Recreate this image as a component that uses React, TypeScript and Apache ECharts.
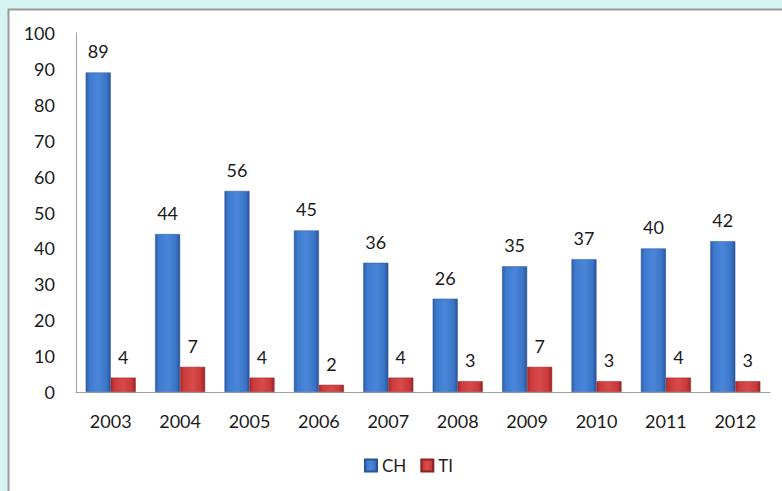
import React, { useEffect, useRef } from "react";
import * as echarts from "echarts";

const years = ["2003", "2004", "2005", "2006", "2007", "2008", "2009", "2010", "2011", "2012"];
const chValues = [89, 44, 56, 45, 36, 26, 35, 37, 40, 42];
const tiValues = [4, 7, 4, 2, 4, 3, 7, 3, 4, 3];

const blueGrad = new echarts.graphic.LinearGradient(0, 0, 1, 0, [
  { offset: 0, color: "#2d5fa8" },
  { offset: 0.15, color: "#3d7ad0" },
  { offset: 0.5, color: "#4a86d8" },
  { offset: 0.85, color: "#3a74c6" },
  { offset: 1, color: "#28549a" },
]);
const redGrad = new echarts.graphic.LinearGradient(0, 0, 1, 0, [
  { offset: 0, color: "#a82a2a" },
  { offset: 0.15, color: "#cc3b3b" },
  { offset: 0.5, color: "#d94a4a" },
  { offset: 0.85, color: "#c83838" },
  { offset: 1, color: "#9a2424" },
]);

export default function App() {
  const ref = useRef<HTMLDivElement>(null);
  useEffect(() => {
    document.body.style.margin = "0";
    const chart = echarts.init(ref.current!, null, { renderer: "svg" });
    const font = "Lato, 'Open Sans', sans-serif";
    chart.setOption({
      animation: false,
      backgroundColor: "#d5f3f3",
      textStyle: { fontFamily: font },
      graphic: [
        {
          type: "rect",
          shape: { x: 8.5, y: 9.5, width: 800, height: 500 },
          style: { fill: "#ffffff", stroke: "#9a9a9a", lineWidth: 2 },
          z: -10,
          silent: true,
        },
      ],
      grid: { left: 76, right: 12, top: 33, bottom: 99, containLabel: false },
      legend: {
        bottom: 12,
        left: 359,
        itemWidth: 12,
        itemHeight: 12,
        itemGap: 14,
        textStyle: { fontSize: 17, color: "#222", fontFamily: font },
        data: [
          { name: "CH", icon: "rect" },
          { name: "TI", icon: "rect" },
        ],
      },
      xAxis: {
        type: "category",
        data: years,
        axisLine: { lineStyle: { color: "#a0a0a0", width: 1 } },
        axisTick: { show: false },
        axisLabel: { fontSize: 18, color: "#1a1a1a", margin: 20, fontFamily: font },
      },
      yAxis: {
        type: "value",
        min: 0,
        max: 100,
        interval: 10,
        splitLine: { show: false },
        axisLine: { show: true, lineStyle: { color: "#a0a0a0", width: 1 } },
        axisTick: { show: false },
        axisLabel: { fontSize: 18, color: "#1a1a1a", margin: 21, fontFamily: font },
      },
      series: [
        {
          name: "CH",
          type: "bar",
          data: chValues,
          barWidth: 25,
          barGap: "0%",
          itemStyle: { color: blueGrad, borderColor: "#2a5594", borderWidth: 0.5 },
          label: { show: true, position: "top", distance: 12, fontSize: 18, color: "#1a1a1a", fontFamily: font },
        },
        {
          name: "TI",
          type: "bar",
          data: tiValues,
          barWidth: 25,
          barGap: "0%",
          itemStyle: { color: redGrad, borderColor: "#8e2222", borderWidth: 0.5 },
          label: { show: true, position: "top", distance: 12, fontSize: 18, color: "#1a1a1a", fontFamily: font },
        },
      ],
    });
    return () => chart.dispose();
  }, []);
  return <div ref={ref} style={{ width: 782, height: 491 }} />;
}
